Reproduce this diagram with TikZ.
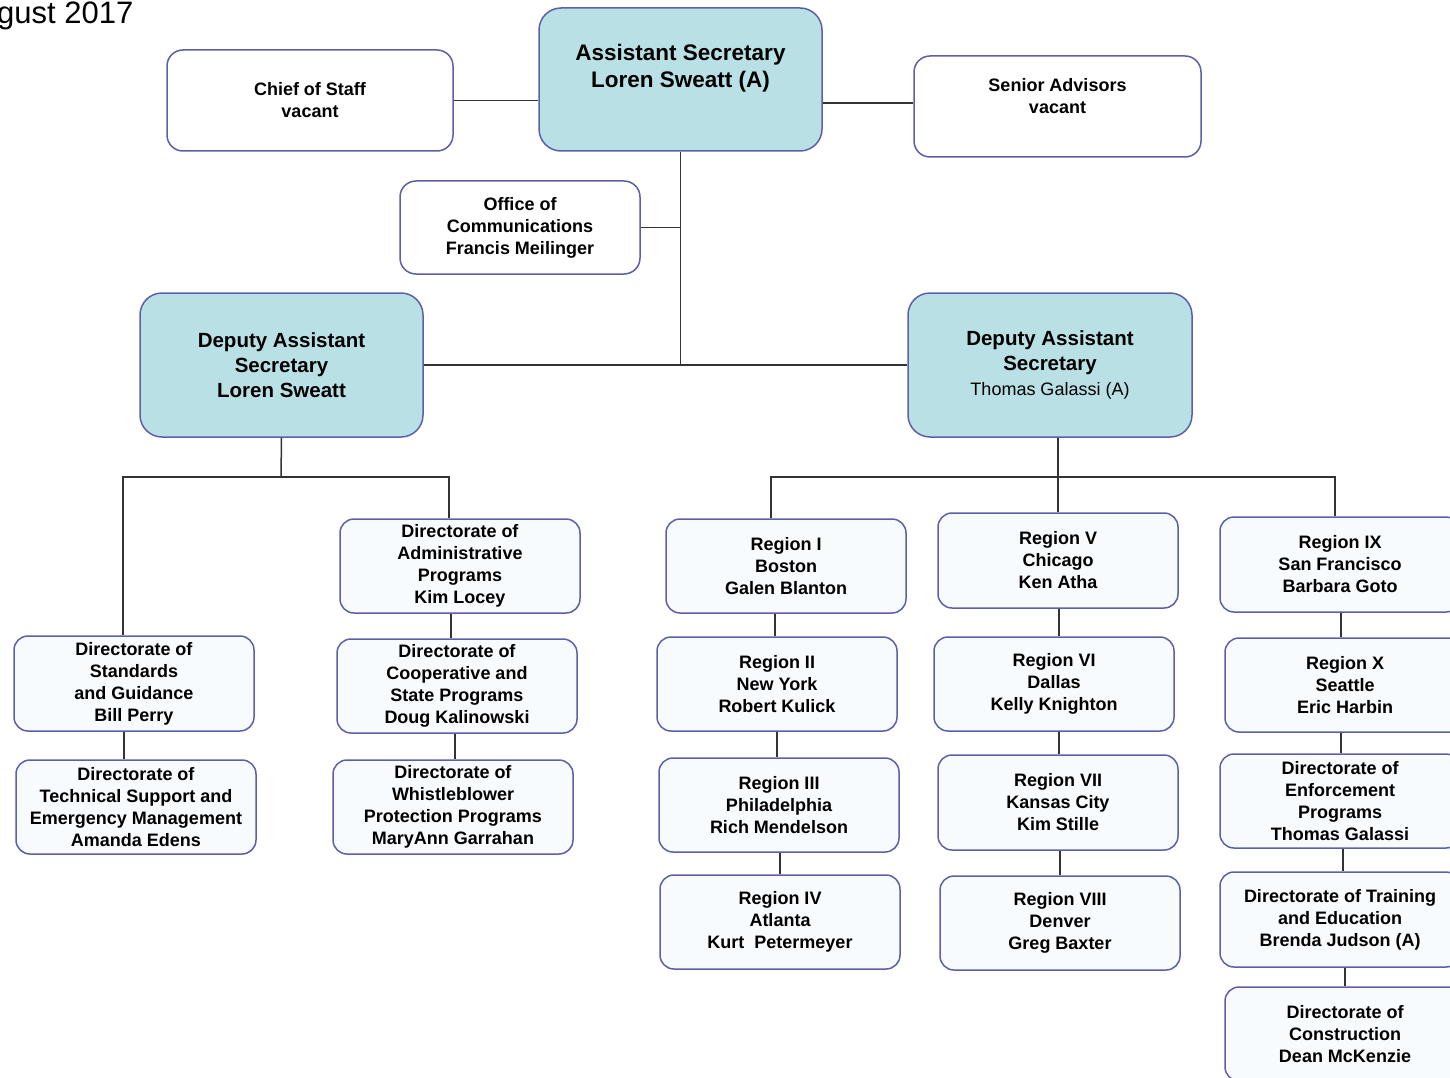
\documentclass[tikz,border=0pt]{standalone}
\usepackage{fontspec}
\setmainfont{Liberation Sans}
\definecolor{bord}{HTML}{5D5FA8}
\definecolor{teal}{HTML}{B9E0E4}
\definecolor{lightf}{HTML}{F8FBFD}
\definecolor{conn}{HTML}{333333}
\tikzset{
  sbox/.style={draw=bord, fill=lightf, rounded corners=14pt, line width=1.5pt,
    minimum width=240pt, minimum height=94pt, align=center, inner sep=0pt,
    font=\fontsize{18}{22}\selectfont\bfseries},
  wbox/.style={sbox, fill=white, rounded corners=16pt},
  tbox/.style={sbox, fill=teal, rounded corners=22pt, minimum width=283pt, minimum height=144pt},
  conline/.style={draw=conn, line width=1.5pt}
}
\begin{document}
\begin{tikzpicture}[x=1pt,y=-1pt]
\useasboundingbox (0,0) rectangle (1450,1078);
\clip (0,0) rectangle (1450,1078);
\node[anchor=base west, font=\fontsize{31}{31}\selectfont, inner sep=0pt] (title) at (-3,24) {gust 2017};

% top level
\node[tbox, minimum height=143pt, font=\fontsize{22.5}{27}\selectfont\bfseries] (as) at (680.5,79.5) {Assistant Secretary\\Loren Sweatt (A)\\\mbox{}};
\node[wbox, minimum width=286pt, minimum height=101pt] (cos) at (310,100.5) {Chief of Staff\\vacant};
\node[wbox, minimum width=287pt, minimum height=101pt] (sa) at (1057.5,106.5) {Senior Advisors\\vacant\\\mbox{}};
\node[wbox, minimum width=240pt, minimum height=93pt] (oc) at (520,227.5) {Office of\\Communications\\Francis Meilinger};
\node[tbox, font=\fontsize{20.5}{25}\selectfont\bfseries] (dasL) at (281.5,365) {Deputy Assistant\\Secretary\\Loren Sweatt};
\node[tbox, minimum width=284pt, font=\fontsize{20.5}{25}\selectfont\bfseries] (dasR) at (1050,365) {Deputy Assistant\\Secretary\\{\mdseries\fontsize{18}{22}\selectfont Thomas Galassi (A)}};

% left branch
\node[sbox, minimum height=95pt] (std) at (134,683.5) {Directorate of\\Standards\\and Guidance\\Bill Perry};
\node[sbox] (tech) at (136,807) {Directorate of\\Technical Support and\\Emergency Management\\Amanda Edens};
\node[sbox] (adm) at (460,566) {Directorate of\\Administrative\\Programs\\Kim Locey};
\node[sbox] (coop) at (457,686) {Directorate of\\Cooperative and\\State Programs\\Doug Kalinowski};
\node[sbox] (wb) at (453,807) {Directorate of\\Whistleblower\\Protection Programs\\MaryAnn Garrahan};

% regions
\node[sbox] (r1) at (786,566) {Region I\\Boston\\Galen Blanton};
\node[sbox] (r2) at (777,684) {Region II\\New York\\Robert Kulick};
\node[sbox] (r3) at (779,805) {Region III\\Philadelphia\\Rich Mendelson};
\node[sbox] (r4) at (780,922) {Region IV\\Atlanta\\Kurt~ Petermeyer};
\node[sbox, minimum height=95pt] (r5) at (1058,560.5) {Region V\\Chicago\\Ken Atha};
\node[sbox] (r6) at (1054,684) {Region VI\\Dallas\\Kelly Knighton};
\node[sbox, minimum height=95pt] (r7) at (1058,802.5) {Region VII\\Kansas City\\Kim Stille};
\node[sbox] (r8) at (1060,923) {Region VIII\\Denver\\Greg Baxter};
\node[sbox, minimum height=95pt] (r9) at (1340,564.5) {Region IX\\San Francisco\\Barbara Goto};
\node[sbox] (r10) at (1345,685) {Region X\\Seattle\\Eric Harbin};
\node[sbox] (enf) at (1340,801) {Directorate of\\Enforcement\\Programs\\Thomas Galassi};
\node[sbox, minimum height=95pt] (trn) at (1340,919.5) {Directorate of Training\\and Education\\Brenda Judson (A)};
\node[sbox] (con) at (1345,1034) {Directorate of\\Construction\\Dean McKenzie};

% connectors top
\draw[conline] (cos.east) -- (cos.east -| as.west);
\draw[conline] ([yshift=3.5pt]sa.west) -- ([yshift=3.5pt]sa.west -| as.east);
\draw[conline] (as.south) -- (as.south |- dasL.east);
\draw[conline] (oc.east) -- (oc.east -| as.south);
\draw[conline] (dasL.east) -- (dasR.west);

% left tree
\coordinate (jL) at (281,477);
\draw[conline] (dasL.south) -- (jL);
\draw[conline] ([xshift=-11pt]std.north) |- (jL);
\draw[conline] ([xshift=-11pt]adm.north) |- (jL);
\draw[conline] ([xshift=-10pt]std.south) -- ([xshift=-10pt]std.south |- tech.north);
\draw[conline] ([xshift=-9pt]adm.south) -- ([xshift=-9pt]adm.south |- coop.north);
\draw[conline] ([xshift=-2pt]coop.south) -- ([xshift=-2pt]coop.south |- wb.north);

% right tree
\coordinate (jR) at (1058,477);
\draw[conline] ([xshift=8pt]dasR.south) -- (jR);
\draw[conline] ([xshift=-15pt]r1.north) |- (jR);
\draw[conline] (r5.north) -- (r5.north |- jR);
\draw[conline] ([xshift=-5pt]r9.north) |- (jR);
\draw[conline] ([xshift=-2pt]r2.north) -- ([xshift=-2pt]r2.north |- r1.south);
\draw[conline] (r2.south) -- (r2.south |- r3.north);
\draw[conline] (r4.north) -- (r4.north |- r3.south);
\draw[conline] ([xshift=1pt]r5.south) -- ([xshift=1pt]r5.south |- r6.north);
\draw[conline] ([xshift=1pt]r7.north) -- ([xshift=1pt]r7.north |- r6.south);
\draw[conline] (r8.north) -- (r8.north |- r7.south);
\draw[conline] ([xshift=1pt]r9.south) -- ([xshift=1pt]r9.south |- r10.north);
\draw[conline] ([xshift=1pt]enf.north) -- ([xshift=1pt]enf.north |- r10.south);
\draw[conline] ([xshift=3pt]enf.south) -- ([xshift=3pt]enf.south |- trn.north);
\draw[conline] (con.north) -- (con.north |- trn.south);
\end{tikzpicture}
\end{document}
